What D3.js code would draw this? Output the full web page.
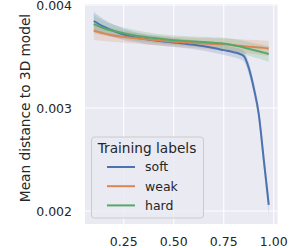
<!DOCTYPE html>
<html>
<head>
<meta charset="utf-8">
<script src="https://cdn.jsdelivr.net/npm/d3@7"></script>
<style>
  body { margin: 0; background: #fff; }
  svg text { font-family: "DejaVu Sans", sans-serif; fill: #262626; }
</style>
</head>
<body>
<svg id="chart" width="299" height="248"></svg>
<script>
// threshold values on the x axis
const xs = [0.1, 0.15, 0.2, 0.25, 0.3, 0.35, 0.4, 0.45, 0.5, 0.55, 0.6, 0.65, 0.7, 0.75,
  0.8, 0.825, 0.85, 0.875, 0.9, 0.925, 0.95, 0.975];

// mean distance (x 1e-3)
const soft = [3.845, 3.79, 3.748, 3.714, 3.69, 3.672, 3.658, 3.647, 3.637, 3.627, 3.615, 3.60, 3.582, 3.562,
  3.542, 3.529, 3.505, 3.39, 3.195, 2.94, 2.50, 2.06];
const weak = [3.75, 3.725, 3.705, 3.692, 3.68, 3.67, 3.66, 3.652, 3.644, 3.638, 3.632, 3.627, 3.622, 3.618,
  3.609, 3.604, 3.60, 3.596, 3.592, 3.588, 3.584, 3.578];
const hard = [3.815, 3.775, 3.747, 3.726, 3.707, 3.692, 3.679, 3.668, 3.659, 3.652, 3.646, 3.64, 3.634, 3.626,
  3.61, 3.599, 3.587, 3.575, 3.563, 3.551, 3.538, 3.524];

// confidence band half widths (x 1e-3)
const softCi = [0.09, 0.072, 0.062, 0.055, 0.05, 0.047, 0.045, 0.044, 0.044, 0.044, 0.044, 0.045, 0.046, 0.047,
  0.049, 0.051, 0.053, 0.056, 0.06, 0.07, 0.085, 0.1];
const weakCi = [0.09, 0.075, 0.065, 0.058, 0.053, 0.05, 0.048, 0.047, 0.047, 0.048, 0.05, 0.052, 0.055, 0.058,
  0.061, 0.063, 0.065, 0.066, 0.068, 0.07, 0.071, 0.072];
const hardCi = [0.088, 0.072, 0.062, 0.056, 0.052, 0.049, 0.047, 0.046, 0.046, 0.047, 0.049, 0.051, 0.054, 0.057,
  0.061, 0.063, 0.065, 0.067, 0.069, 0.071, 0.073, 0.075];

const labels = ["soft", "weak", "hard"];
const colors = ["#4c72b0", "#dd8452", "#55a868"];
const xTicks = [0.25, 0.5, 0.75, 1.0];
const yTicks = [0.002, 0.003, 0.004];

const series = [
  { name: labels[0], vals: soft, ci: softCi, color: colors[0] },
  { name: labels[1], vals: weak, ci: weakCi, color: colors[1] },
  { name: labels[2], vals: hard, ci: hardCi, color: colors[2] }
];

const svg = d3.select("#chart");
const plot = { left: 85, right: 277.5, top: 4, bottom: 224 };

// 5% margin like matplotlib
const xPad = (d3.max(xs) - d3.min(xs)) * 0.05;
const x = d3.scaleLinear()
  .domain([d3.min(xs) - xPad, d3.max(xs) + xPad])
  .range([plot.left, plot.right]);
const y = d3.scaleLinear()
  .domain([0.001874, 0.00401])
  .range([plot.bottom, plot.top]);

// background
svg.append("rect")
  .attr("x", plot.left).attr("y", plot.top)
  .attr("width", plot.right - plot.left)
  .attr("height", plot.bottom - plot.top)
  .attr("fill", "#eaeaf2");

// grid
svg.append("g").selectAll("line")
  .data(xTicks).enter().append("line")
  .attr("x1", d => x(d)).attr("x2", d => x(d))
  .attr("y1", plot.top).attr("y2", plot.bottom)
  .attr("stroke", "#fff").attr("stroke-width", 1);
svg.append("g").selectAll("line")
  .data(yTicks).enter().append("line")
  .attr("x1", plot.left).attr("x2", plot.right)
  .attr("y1", d => y(d)).attr("y2", d => y(d))
  .attr("stroke", "#fff").attr("stroke-width", 1);

// bands + lines
const area = d3.area()
  .x((d, i) => x(xs[i]))
  .y0(d => y(d[0] * 1e-3))
  .y1(d => y(d[1] * 1e-3))
  .curve(d3.curveMonotoneX);
const line = d3.line()
  .x((d, i) => x(xs[i]))
  .y(d => y(d * 1e-3))
  .curve(d3.curveMonotoneX);

const g = svg.append("g");
series.forEach(s => {
  g.append("path")
    .datum(s.vals.map((v, i) => [v - s.ci[i], v + s.ci[i]]))
    .attr("d", area)
    .attr("fill", s.color)
    .attr("fill-opacity", 0.2);
});
series.forEach(s => {
  g.append("path")
    .datum(s.vals)
    .attr("d", line)
    .attr("fill", "none")
    .attr("stroke", s.color)
    .attr("stroke-width", 2)
    .attr("stroke-linejoin", "round");
});

// tick labels
svg.append("g").selectAll("text")
  .data(xTicks).enter().append("text")
  .attr("x", d => x(d))
  .attr("y", 245.5)
  .attr("text-anchor", "middle")
  .style("font-size", "12.5px")
  .text(d => d3.format(".2f")(d));
svg.append("g").selectAll("text")
  .data(yTicks).enter().append("text")
  .attr("x", 72)
  .attr("y", d => y(d) + 4.5)
  .attr("text-anchor", "end")
  .style("font-size", "12.5px")
  .text(d => d3.format(".3f")(d));

// axis label
svg.append("text")
  .attr("transform", "translate(30,108) rotate(-90)")
  .attr("text-anchor", "middle")
  .style("font-size", "13.7px")
  .text("Mean distance to 3D model");

// legend
const legend = svg.append("g");
legend.append("rect")
  .attr("x", 91.5).attr("y", 137)
  .attr("width", 112).attr("height", 81)
  .attr("rx", 3)
  .attr("fill", "#eaeaf2").attr("fill-opacity", 0.8)
  .attr("stroke", "#cccccc").attr("stroke-width", 1);
legend.append("text")
  .attr("x", 147).attr("y", 152.5)
  .attr("text-anchor", "middle")
  .style("font-size", "13.7px")
  .text("Training labels");
series.forEach((s, i) => {
  const ly = 167 + i * 19.2;
  legend.append("line")
    .attr("x1", 107).attr("x2", 135)
    .attr("y1", ly).attr("y2", ly)
    .attr("stroke", s.color).attr("stroke-width", 2);
  legend.append("text")
    .attr("x", 145).attr("y", ly + 4.4)
    .style("font-size", "12.5px")
    .text(s.name);
});
</script>
</body>
</html>
